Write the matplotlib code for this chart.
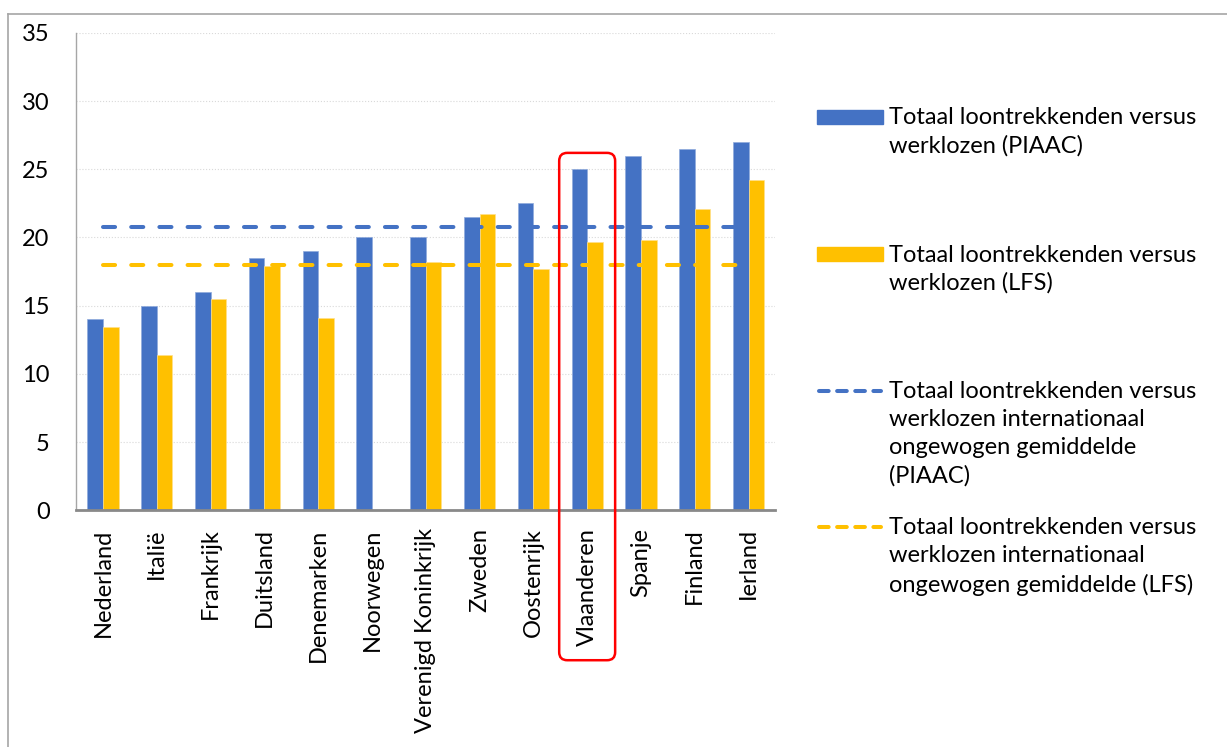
import matplotlib
matplotlib.use('Agg')
import matplotlib.pyplot as plt
from matplotlib.patches import FancyBboxPatch, Rectangle
from matplotlib.lines import Line2D

plt.rcParams['font.family'] = ['Lato', 'DejaVu Sans']

landen = ['Nederland', 'Italië', 'Frankrijk', 'Duitsland', 'Denemarken', 'Noorwegen',
          'Verenigd Koninkrijk', 'Zweden', 'Oostenrijk', 'Vlaanderen', 'Spanje', 'Finland', 'Ierland']
piaac = [14, 15, 16, 18.5, 19, 20, 20, 21.5, 22.5, 25, 26, 26.5, 27]
lfs = [13.4, 11.4, 15.5, 17.9, 14.1, None, 18.2, 21.7, 17.7, 19.7, 19.8, 22.1, 24.2]
gem_piaac = 20.8
gem_lfs = 18.0
labels = ['Totaal loontrekkenden versus\nwerklozen (PIAAC)',
          'Totaal loontrekkenden versus\nwerklozen (LFS)',
          'Totaal loontrekkenden versus\nwerklozen internationaal\nongewogen gemiddelde\n(PIAAC)',
          'Totaal loontrekkenden versus\nwerklozen internationaal\nongewogen gemiddelde (LFS)']

blauw = '#4472C4'
geel = '#FFC000'
fs = 17

fig = plt.figure(figsize=(12.27, 7.47), dpi=100)
ax = fig.add_axes([0.062, 0.317, 0.57, 0.639])

n = len(landen)
x = list(range(n))
w = 0.29
ax.bar([i - w/2 for i in x], piaac, w, color=blauw, edgecolor='#8FAADC', linewidth=0.5, zorder=2)
xl = [i for i in x if lfs[i] is not None]
ax.bar([i + w/2 for i in xl], [lfs[i] for i in xl], w, color=geel, edgecolor='#FFE08A', linewidth=0.5, zorder=2)

ax.plot([0, n - 1], [gem_piaac, gem_piaac], color=blauw, lw=2.9, ls=(0, (3, 4)),
        dash_capstyle='round', zorder=3)
ax.plot([0, n - 1], [gem_lfs, gem_lfs], color=geel, lw=2.9, ls=(0, (3, 4)),
        dash_capstyle='round', zorder=3)

ax.set_xlim(-0.5, n - 0.5)
ax.set_ylim(0, 35)
ax.set_yticks(range(0, 36, 5))
ax.set_xticks(x)
ax.set_xticklabels(landen, rotation=90, fontsize=fs, color='black')
ax.tick_params(axis='y', labelsize=fs, length=0, pad=19)
ax.tick_params(axis='x', length=0, pad=13)
ax.yaxis.grid(True, color='#D9D9D9', linestyle=':', linewidth=0.8)
ax.set_axisbelow(True)
for s in ['top', 'right']:
    ax.spines[s].set_visible(False)
ax.spines['left'].set_color('#A6A6A6')
ax.spines['left'].set_linewidth(1.0)
ax.spines['bottom'].set_color('#898989')
ax.spines['bottom'].set_linewidth(2.0)

# rode kader rond Vlaanderen
px_x = 53.8
px_y = 13.63
box = FancyBboxPatch((8.48, -11.0), 1.04, 37.2,
                     boxstyle='round,pad=0,rounding_size=0.15',
                     mutation_aspect=px_x / px_y,
                     fill=False, edgecolor='#FF0000', linewidth=1.8,
                     clip_on=False, zorder=4)
ax.add_patch(box)

# legende
W, H = 1227.0, 747.0
rij_y = [117, 254, 391, 527]
for k in range(4):
    yc = 1 - rij_y[k] / H
    if k < 2:
        kleur = blauw if k == 0 else geel
        fig.add_artist(Rectangle((817 / W, yc - 7 / H), 66 / W, 14 / H,
                                 transform=fig.transFigure, color=kleur))
    else:
        kleur = blauw if k == 2 else geel
        fig.add_artist(Line2D([819 / W, 881 / W], [yc, yc], transform=fig.transFigure,
                              color=kleur, lw=2.9, ls=(0, (2.4, 2.1)), dash_capstyle='round'))
    fig.text(889 / W, yc + 9.5 / H, labels[k], fontsize=fs, va='top', ha='left',
             linespacing=1.4, color='black')

# kader
fig.add_artist(Line2D([8 / W, 1], [1 - 14 / H, 1 - 14 / H], transform=fig.transFigure,
                      color='#A6A6A6', lw=1.2))
fig.add_artist(Line2D([8 / W, 8 / W], [0, 1 - 14 / H], transform=fig.transFigure,
                      color='#A6A6A6', lw=1.2))

fig.savefig('out.png', dpi=100)
